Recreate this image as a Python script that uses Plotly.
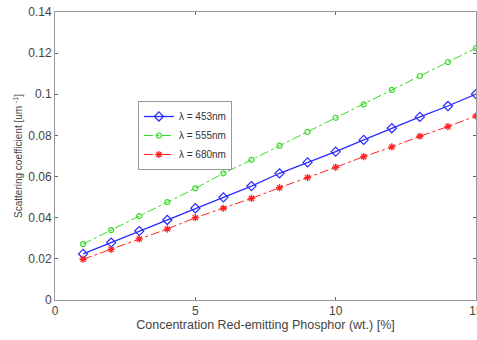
import plotly.graph_objects as go

conc = list(range(1, 16))
blue_453 = [0.0224, 0.0279, 0.0335, 0.0389, 0.0446, 0.0499, 0.0554, 0.0616, 0.0669, 0.0721, 0.0778, 0.0835, 0.0890, 0.0943, 0.1001]
green_555 = [0.0272, 0.0340, 0.0408, 0.0476, 0.0543, 0.0616, 0.0681, 0.0750, 0.0817, 0.0886, 0.0951, 0.1021, 0.1089, 0.1157, 0.1224]
red_680 = [0.0198, 0.0246, 0.0297, 0.0345, 0.0400, 0.0446, 0.0494, 0.0546, 0.0595, 0.0645, 0.0697, 0.0744, 0.0796, 0.0843, 0.0895]
names = ["λ = 453nm", "λ = 555nm", "λ = 680nm"]
x_ticks = [0, 5, 10, 15]
y_ticks = [0, 0.02, 0.04, 0.06, 0.08, 0.1, 0.12, 0.14]
y_ticktext = ["0", "0.02", "0.04", "0.06", "0.08", "0.1", "0.12", "0.14"]

FONT = "Liberation Sans, Arial"
TXT = "#444444"

fig = go.Figure()
fig.add_trace(go.Scatter(x=conc, y=blue_453, name=names[0], mode="lines+markers",
                         line=dict(color="#2a2aff", width=1.3),
                         marker=dict(symbol="diamond-open", size=7, color="#2a2aff", line=dict(width=1.2))))
fig.add_trace(go.Scatter(x=conc, y=green_555, name=names[1], mode="lines+markers",
                         line=dict(color="#33dd22", width=1, dash="dashdot"),
                         marker=dict(symbol="circle-open", size=5, color="#33dd22", line=dict(width=1.2))))
fig.add_trace(go.Scatter(x=conc, y=red_680, name=names[2], mode="lines+markers",
                         line=dict(color="#ff2222", width=1, dash="dashdot"),
                         marker=dict(symbol="asterisk-open", size=6, color="#ff2222", line=dict(width=1.3, color="#ff2222"))))

axis_common = dict(showgrid=False, zeroline=False, showline=True, linecolor="#999999", linewidth=1,
                   mirror="ticks", ticks="inside", ticklen=3, tickcolor="#666666",
                   ticklabeloverflow="allow", automargin=False,
                   tickfont=dict(family=FONT, size=12, color=TXT))
fig.update_xaxes(range=[0, 15], tickvals=x_ticks, ticktext=[str(v) for v in x_ticks],
                 title=dict(text="Concentration Red-emitting Phosphor (wt.) [%]", standoff=2,
                            font=dict(family=FONT, size=12.5, color=TXT)),
                 **axis_common)
fig.update_yaxes(range=[0, 0.14], tickvals=y_ticks, ticktext=y_ticktext,
                 title=dict(text="Scattering coefficient [um <sup>-1</sup>]", standoff=3,
                            font=dict(family=FONT, size=10, color=TXT)),
                 **axis_common)
fig.update_layout(width=477, height=340, margin=dict(l=55, r=1, t=12, b=40),
                  plot_bgcolor="white", paper_bgcolor="white",
                  legend=dict(x=0.197, y=0.691, xanchor="left", yanchor="top",
                              bgcolor="white", bordercolor="#999999", borderwidth=1,
                              font=dict(family=FONT, size=10, color="#333333"),
                              tracegroupgap=0, itemwidth=30))
fig.write_html("out.html")
